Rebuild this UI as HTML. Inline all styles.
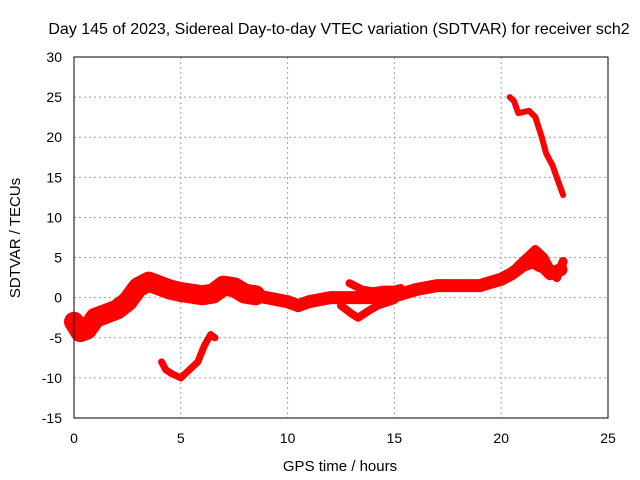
<!DOCTYPE html>
<html><head><meta charset="utf-8"><style>
body{margin:0;background:#fff}
svg{display:block;font-family:"Liberation Sans",sans-serif}
</style></head><body>
<svg id="c" width="640" height="480">
<text x="339" y="34" font-size="16" text-anchor="middle">Day 145 of 2023, Sidereal Day-to-day VTEC variation (SDTVAR) for receiver sch2</text>
<text x="340" y="471" font-size="15" text-anchor="middle">GPS time / hours</text>
<text transform="translate(20,238) rotate(-90)" font-size="15" text-anchor="middle">SDTVAR / TECUs</text>
<g id="grid"></g><g id="marks"></g>
<rect x="74" y="57" width="534" height="361" fill="none" stroke="#000"/>
</svg>
<script>
const xTicks=[0,5,10,15,20,25];
const yTicks=[-15,-10,-5,0,5,10,15,20,25,30];
const earlyX=[0,0.3,0.6,1,1.5,2,2.5,3,3.5,4,4.5,5,5.5,6,6.5,7,7.5,8,8.5];
const earlyY=[-3,-4.3,-4,-2.5,-2,-1.5,-0.5,1.3,2,1.5,1,0.7,0.5,0.3,0.5,1.5,1.3,0.5,0.3];
const mainX=[8.5,9,10,10.5,11,12,13,14,15,16,17,18,19,20,20.5,21,21.5,21.8,22,22.3,22.8];
const mainY=[0.3,0,-0.5,-1,-0.5,0,0,0,0.2,1,1.5,1.5,1.5,2.3,3,4,4.5,4,3.8,3,3.5];
const upX=[12.9,13.5,14,14.5,15,15.3];
const upY=[1.8,1,0.8,1,1,1.2];
const lowX=[12.5,13,13.3,13.7,14.2,15];
const lowY=[-1,-2,-2.5,-1.8,-1,-0.3];
const loopX=[20.3,20.8,21.2,21.6,22,22.3,22.6,22.9];
const loopY=[2.5,4,5,6,5,3.5,2.5,4.5];
const arcX=[4.1,4.3,4.6,5,5.4,5.8,6.1,6.4,6.6];
const arcY=[-8,-9,-9.5,-10,-9,-8,-6,-4.6,-5];
const topX=[20.4,20.6,20.8,21.3,21.6,21.9,22.1,22.4,22.6,22.9];
const topY=[25,24.5,23,23.3,22.5,20,18,16.5,15,12.8];
const sx=v=>74+v*534/25, sy=v=>418-(v+15)*361/45;
const NS="http://www.w3.org/2000/svg";
const g=document.getElementById('grid'), m=document.getElementById('marks');
function mk(t,a,p){const e=document.createElementNS(NS,t);for(const k in a)e.setAttribute(k,a[k]);p.appendChild(e);return e;}
xTicks.forEach(t=>{
 const gl=mk('line',{x1:sx(t),x2:sx(t),y1:57,y2:418,stroke:'#a0a0a0','stroke-dasharray':'2,3'},g);
 
 
 const l=mk('text',{x:sx(t),y:443,'font-size':14,'text-anchor':'middle'},g);l.textContent=t;
 
 
});
yTicks.forEach(t=>{
 const gl=mk('line',{x1:74,x2:608,y1:sy(t),y2:sy(t),stroke:'#a0a0a0','stroke-dasharray':'2,3'},g);
 
 
 const l=mk('text',{x:62,y:sy(t)+5,'font-size':14,'text-anchor':'end'},g);l.textContent=t;
 
 
});
function series(xs,ys,w,name){
 const pts=xs.map((x,i)=>sx(x)+','+sy(ys[i])).join(' ');
 const p=mk('polyline',{points:pts,fill:'none',stroke:'#f00','stroke-width':w,'stroke-linejoin':'round','stroke-linecap':'round'},m);
 
 
}
series(earlyX,earlyY,20,'series-early');
series(mainX,mainY,13,'series-main');
series(upX,upY,8,'series-upper-branch');
series(lowX,lowY,8,'series-lower-branch');
series(loopX,loopY,9,'series-loop');
series(arcX,arcY,7,'series-negative-arc');
series(topX,topY,6,'series-top-arc');
</script>
</body></html>
